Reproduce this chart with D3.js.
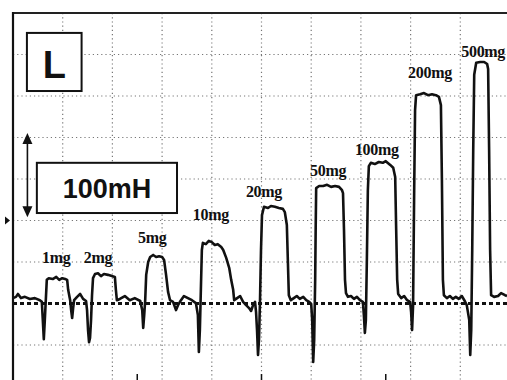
<!DOCTYPE html>
<html>
<head>
<meta charset="utf-8">
<script src="https://cdn.jsdelivr.net/npm/d3@7"></script>
<style>
  html, body { margin: 0; padding: 0; background: #fff; overflow: hidden; }
  .peak-label { font-family: "Liberation Serif", "Times New Roman", serif; font-weight: bold; font-size: 16px; letter-spacing: -0.3px; }
</style>
</head>
<body>
<svg id="canvas"></svg>
<script>
// trace: [time (div), signal (div above baseline)]
const trace = [
  [0.00, 0.13], [0.06, 0.16], [0.10, 0.23], [0.16, 0.13], [0.24, 0.16], [0.34, 0.11], [0.44, 0.13],
  [0.54, 0.08], [0.58, 0.04], [0.60, -0.40], [0.62, -0.86], [0.64, -0.40], [0.66, 0.08],
  [0.68, 0.57], [0.72, 0.61], [0.80, 0.59], [0.87, 0.64], [0.93, 0.57], [0.99, 0.61], [1.05, 0.59], [1.09, 0.57],
  [1.11, 0.33], [1.15, 0.08], [1.17, -0.16], [1.19, -0.35], [1.21, -0.11], [1.23, 0.08], [1.29, 0.16],
  [1.35, 0.23], [1.41, 0.11], [1.47, 0.06], [1.49, -0.16], [1.51, -0.64], [1.53, -0.93], [1.55, -0.83],
  [1.57, -0.40], [1.59, 0.20], [1.61, 0.61], [1.65, 0.71], [1.71, 0.73], [1.77, 0.66], [1.83, 0.71],
  [1.91, 0.69], [1.99, 0.66], [2.05, 0.64], [2.07, 0.33], [2.09, 0.08], [2.15, 0.11], [2.25, 0.18],
  [2.35, 0.08], [2.45, 0.13], [2.56, 0.06], [2.60, -0.16], [2.62, -0.59], [2.64, -0.28], [2.66, 0.08],
  [2.68, 0.69], [2.72, 1.00], [2.76, 1.12], [2.82, 1.17], [2.88, 1.12], [2.94, 1.14], [3.00, 1.12],
  [3.04, 1.05], [3.08, 0.69], [3.12, 0.28], [3.16, 0.08], [3.22, 0.04], [3.28, -0.16], [3.32, -0.04],
  [3.38, 0.08], [3.44, 0.18], [3.52, 0.13], [3.60, 0.08], [3.68, 0.01], [3.72, -0.28], [3.74, -1.17],
  [3.76, -0.64], [3.78, 0.33], [3.80, 1.29], [3.82, 1.46], [3.88, 1.43], [3.94, 1.51], [4.00, 1.48],
  [4.06, 1.41], [4.12, 1.43], [4.19, 1.36], [4.23, 1.29], [4.29, 1.10], [4.35, 0.86], [4.39, 0.57],
  [4.43, 0.33], [4.45, 0.08], [4.51, 0.13], [4.57, 0.18], [4.63, 0.04], [4.69, -0.04], [4.75, -0.11],
  [4.79, -0.18], [4.83, -0.04], [4.87, 0.04], [4.89, -0.20], [4.91, -0.64], [4.93, -1.24], [4.95, -0.86],
  [4.97, 0.08], [4.99, 1.29], [5.01, 2.13], [5.05, 2.33], [5.13, 2.30], [5.19, 2.35], [5.27, 2.33],
  [5.35, 2.30], [5.43, 2.28], [5.47, 2.20], [5.51, 1.89], [5.53, 1.05], [5.55, 0.20], [5.59, 0.08],
  [5.65, 0.13], [5.71, 0.18], [5.77, 0.11], [5.84, 0.16], [5.90, 0.08], [5.96, 0.04], [6.00, -0.01],
  [6.02, -0.40], [6.04, -1.41], [6.06, -0.88], [6.08, 0.57], [6.09, 1.80], [6.10, 2.78], [6.16, 2.83],
  [6.24, 2.83], [6.32, 2.86], [6.40, 2.81], [6.48, 2.83], [6.56, 2.81], [6.62, 2.73], [6.64, 2.66],
  [6.66, 1.77], [6.68, 0.57], [6.70, 0.25], [6.74, 0.16], [6.80, 0.18], [6.86, 0.11], [6.92, 0.16],
  [6.98, 0.08], [7.04, 0.04], [7.06, -0.28], [7.08, -0.71], [7.10, -0.40], [7.12, 1.05], [7.14, 2.73],
  [7.16, 3.31], [7.20, 3.39], [7.28, 3.36], [7.36, 3.41], [7.44, 3.39], [7.50, 3.43], [7.59, 3.34],
  [7.65, 3.27], [7.69, 3.05], [7.71, 1.77], [7.73, 0.57], [7.75, 0.23], [7.81, 0.13], [7.87, 0.18],
  [7.93, 0.08], [7.99, 0.04], [8.01, -0.20], [8.03, -0.64], [8.05, -0.04], [8.07, 2.49], [8.09, 4.66],
  [8.11, 5.02], [8.19, 5.04], [8.27, 5.07], [8.35, 5.02], [8.43, 5.04], [8.51, 5.02], [8.57, 4.98],
  [8.61, 4.78], [8.63, 2.98], [8.65, 0.57], [8.67, 0.20], [8.73, 0.13], [8.79, 0.18], [8.85, 0.11],
  [8.91, 0.16], [8.97, 0.11], [9.03, 0.18], [9.09, 0.06], [9.13, -0.04], [9.18, -0.40], [9.20, -1.24],
  [9.22, -0.64], [9.24, 1.29], [9.26, 3.70], [9.28, 5.51], [9.32, 5.80], [9.40, 5.82], [9.48, 5.82],
  [9.54, 5.77], [9.56, 5.65], [9.58, 3.70], [9.60, 1.29], [9.62, 0.20], [9.68, 0.16], [9.76, 0.18],
  [9.82, 0.25], [9.90, 0.20], [9.94, 0.18]
];

const peakNames = ["1mg", "2mg", "5mg", "10mg", "20mg", "50mg", "100mg", "200mg", "500mg"];
// label anchor for each peak: [time (div), level (div)]
const peakLabelAt = [
  [0.87, 0.98], [1.71, 0.98], [2.80, 1.46], [3.98, 2.02], [5.05, 2.57],
  [6.34, 3.07], [7.32, 3.58], [8.39, 5.43], [9.46, 5.94]
];

const gridX = [1, 2, 3, 4, 5, 6, 7, 8, 9];
const gridY = [-2, -1, 1, 2, 3, 4, 5, 6];
const bottomMarks = [2.5, 5, 7.5];

const width = 507, height = 380;

const svg = d3.select("#canvas")
  .attr("width", width)
  .attr("height", height);

const x = d3.scaleLinear().domain([0, 10]).range([13, 510]);
const y = d3.scaleLinear().domain([-2, 7]).range([386.5, 13]);

// graticule
svg.append("g")
  .selectAll("line")
  .data(gridX)
  .enter()
  .append("line")
  .attr("x1", d => x(d)).attr("x2", d => x(d))
  .attr("y1", y(7)).attr("y2", y(-2))
  .attr("stroke", "#777")
  .attr("stroke-width", 1.2)
  .attr("stroke-dasharray", "1.2,3");

svg.append("g")
  .selectAll("line")
  .data(gridY)
  .enter()
  .append("line")
  .attr("x1", x(0)).attr("x2", x(10))
  .attr("y1", d => y(d)).attr("y2", d => y(d))
  .attr("stroke", "#777")
  .attr("stroke-width", 1.2)
  .attr("stroke-dasharray", "1.2,3");

// frame (top and left edges visible)
svg.append("line")
  .attr("x1", x(0)).attr("x2", x(10))
  .attr("y1", y(7)).attr("y2", y(7))
  .attr("stroke", "#222").attr("stroke-width", 2.2);
svg.append("line")
  .attr("x1", x(0)).attr("x2", x(0))
  .attr("y1", y(7) - 1).attr("y2", height)
  .attr("stroke", "#111").attr("stroke-width", 2.2);

// bottom marks
svg.append("g")
  .selectAll("line")
  .data(bottomMarks)
  .enter()
  .append("line")
  .attr("x1", d => x(d)).attr("x2", d => x(d))
  .attr("y1", y(-1.7)).attr("y2", height)
  .attr("stroke", "#111").attr("stroke-width", 1.5);

// ground level marker
svg.append("path")
  .attr("d", `M${x(0) - 8},${y(2) - 4}L${x(0) - 3},${y(2)}L${x(0) - 8},${y(2) + 4}Z`)
  .attr("fill", "#111");

// baseline
svg.append("line")
  .attr("x1", x(0)).attr("x2", x(10))
  .attr("y1", y(0)).attr("y2", y(0))
  .attr("stroke", "#111")
  .attr("stroke-width", 3)
  .attr("stroke-dasharray", "4,3");

// trace
const line = d3.line()
  .x(d => x(d[0]))
  .y(d => y(d[1]));

svg.append("path")
  .datum(trace)
  .attr("d", line)
  .attr("fill", "none")
  .attr("stroke", "#111")
  .attr("stroke-width", 2.6)
  .attr("stroke-linejoin", "round");

// peak labels
svg.append("g")
  .selectAll("text")
  .data(peakNames)
  .enter()
  .append("text")
  .attr("class", "peak-label")
  .attr("x", (d, i) => x(peakLabelAt[i][0]))
  .attr("y", (d, i) => y(peakLabelAt[i][1]))
  .attr("text-anchor", "middle")
  .attr("fill", "#111")
  .text(d => d);

// "L" box
svg.append("rect")
  .attr("x", x(0.28)).attr("y", y(6.52))
  .attr("width", x(1.38) - x(0.28)).attr("height", y(5.12) - y(6.52))
  .attr("fill", "#fff").attr("stroke", "#111").attr("stroke-width", 2);
svg.append("text")
  .attr("x", (x(0.28) + x(1.38)) / 2)
  .attr("y", y(5.12) - 13)
  .attr("text-anchor", "middle")
  .style("font-family", "'Liberation Sans', Arial, sans-serif")
  .style("font-weight", "bold")
  .style("font-size", "38px")
  .attr("fill", "#111")
  .text("L");

// scale arrow
const ax = x(0.29);
svg.append("line")
  .attr("x1", ax).attr("x2", ax)
  .attr("y1", y(4.11) + 8).attr("y2", y(2.08) - 8)
  .attr("stroke", "#111").attr("stroke-width", 1.6);
svg.append("path")
  .attr("d", `M${ax},${y(4.11)}L${ax - 5},${y(4.11) + 11}L${ax + 5},${y(4.11) + 11}Z`)
  .attr("fill", "#111");
svg.append("path")
  .attr("d", `M${ax},${y(2.08)}L${ax - 5},${y(2.08) - 11}L${ax + 5},${y(2.08) - 11}Z`)
  .attr("fill", "#111");

// "100mH" box
svg.append("rect")
  .attr("x", x(0.48)).attr("y", y(3.39))
  .attr("width", x(3.30) - x(0.48)).attr("height", y(2.18) - y(3.39))
  .attr("fill", "#fff").attr("stroke", "#111").attr("stroke-width", 2);
svg.append("text")
  .attr("x", (x(0.48) + x(3.30)) / 2)
  .attr("y", y(2.18) - 15)
  .attr("text-anchor", "middle")
  .style("font-family", "'Liberation Sans', Arial, sans-serif")
  .style("font-weight", "bold")
  .style("font-size", "27px")
  .attr("fill", "#111")
  .text("100mH");
</script>
</body>
</html>
